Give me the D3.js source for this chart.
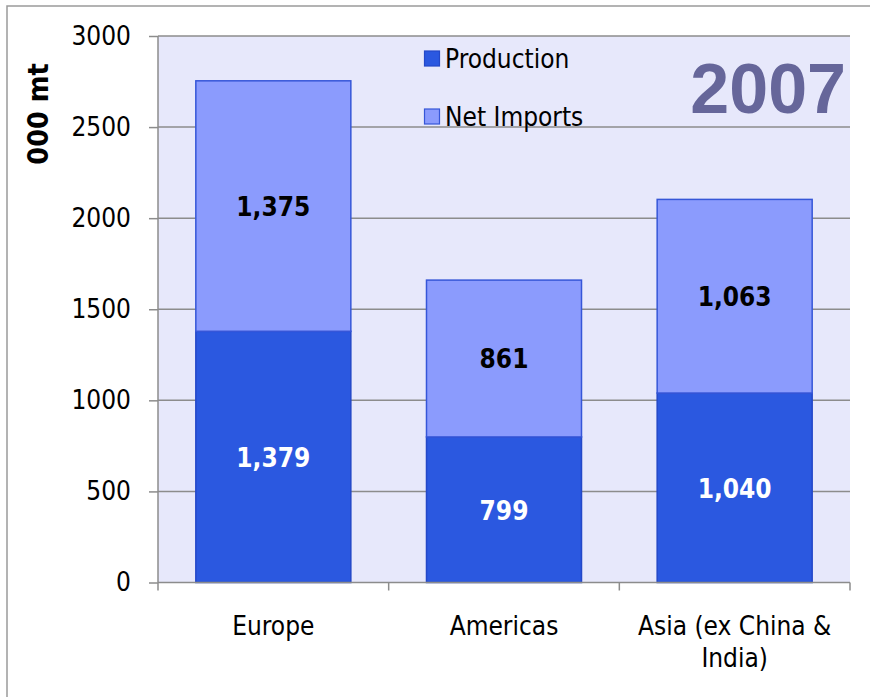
<!DOCTYPE html>
<html><head><meta charset="utf-8">
<script src="https://cdn.jsdelivr.net/npm/d3@7"></script>
<style>
body{margin:0;background:#fff;}
text{font-family:"DejaVu Sans Condensed","DejaVu Sans",sans-serif;font-stretch:condensed;}
</style></head>
<body>
<svg id="chart" width="870" height="697"></svg>
<script>
const categories = ["Europe", "Americas", "Asia (ex China & India)"];
const categoryLines = [["Europe"], ["Americas"], ["Asia (ex China &", "India)"]];
const production = [1379, 799, 1040];
const netImports = [1375, 861, 1063];
const seriesNames = ["Production", "Net Imports"];
const yTicks = [0, 500, 1000, 1500, 2000, 2500, 3000];
const yearLabel = "2007";
const yTitle = "000 mt";

const svg = d3.select("#chart");
const W = 870, H = 697;
const m = {left:158, right:850, top:36, bottom:582.5};

// outer border
svg.append("rect").attr("x",7).attr("y",6).attr("width",W+10).attr("height",H+10)
  .attr("fill","#fff").attr("stroke","#9a9a9a").attr("stroke-width",1.5);

const x = d3.scaleBand().domain(categories).range([m.left, m.right]).padding(0);
const y = d3.scaleLinear().domain([0,3000]).range([m.bottom, m.top]);

// plot background
svg.append("rect").attr("x",m.left).attr("y",m.top).attr("width",m.right-m.left).attr("height",m.bottom-m.top)
  .attr("fill","#e7e8fb");

// grid
svg.append("g").selectAll("line").data(yTicks.filter(d=>d>0)).join("line")
  .attr("x1",m.left).attr("x2",m.right).attr("y1",d=>y(d)).attr("y2",d=>y(d))
  .attr("stroke","#8c8c8c").attr("stroke-width",1.5);

// bars
const stackData = categories.map((c,i)=>({cat:c, production:production[i], netImports:netImports[i]}));
const stack = d3.stack().keys(["production","netImports"])(stackData);
const colors = {production:"#2b58e0", netImports:"#8b9bfd"};
const strokes = {production:"#2448c8", netImports:"#3656d8"};
const barW = x.bandwidth()*0.672;
const gBars = svg.append("g");
stack.forEach(layer=>{
  gBars.selectAll(null).data(layer).join("rect")
    .attr("x",d=>x(d.data.cat)+(x.bandwidth()-barW)/2)
    .attr("y",d=>y(d[1]))
    .attr("width",barW)
    .attr("height",d=>y(d[0])-y(d[1]))
    .attr("fill",colors[layer.key])
    .attr("stroke",strokes[layer.key]).attr("stroke-width",1.5);
});
const fmt = d3.format(",");
stack.forEach(layer=>{
  gBars.selectAll(null).data(layer).join("text")
    .attr("x",d=>x(d.data.cat)+x.bandwidth()/2)
    .attr("y",d=>(y(d[0])+y(d[1]))/2)
    .attr("dy","0.38em")
    .attr("text-anchor","middle")
    .attr("font-weight","bold").attr("font-size",26)
    .attr("fill",layer.key==="production"?"#ffffff":"#000000")
    .text(d=>fmt(d[1]-d[0]));
});

// y axis
const yAxis = svg.append("g").attr("transform",`translate(${m.left},0)`)
  .call(d3.axisLeft(y).tickValues(yTicks).tickSize(9).tickPadding(18).tickFormat(d3.format("d")));
yAxis.select(".domain").attr("stroke","#8c8c8c").attr("stroke-width",1.5).attr("d",`M0,${m.top}V${m.bottom}`);
yAxis.selectAll(".tick line").attr("stroke","#8c8c8c").attr("stroke-width",1.5);
yAxis.selectAll(".tick text").attr("font-size",26).attr("fill","#000")
  .style("font-family",'"DejaVu Sans Condensed","DejaVu Sans",sans-serif');

// x axis
const xAxisG = svg.append("g");
xAxisG.append("line").attr("x1",m.left).attr("x2",m.right).attr("y1",m.bottom).attr("y2",m.bottom)
  .attr("stroke","#8c8c8c").attr("stroke-width",1.5);
const boundaries = categories.map(c=>x(c)).concat([x(categories[categories.length-1])+x.bandwidth()]);
xAxisG.selectAll("line.t").data(boundaries).join("line").attr("class","t")
  .attr("x1",d=>d).attr("x2",d=>d).attr("y1",m.bottom).attr("y2",m.bottom+8)
  .attr("stroke","#8c8c8c").attr("stroke-width",1.5);
categories.forEach((c,i)=>{
  const t = xAxisG.append("text").attr("text-anchor","middle").attr("font-size",26).attr("fill","#000");
  categoryLines[i].forEach((ln,j)=>{
    t.append("tspan").attr("x",x(c)+x.bandwidth()/2).attr("y",635+j*31.5).text(ln);
  });
});

// y title
svg.append("text").attr("transform","translate(48,114) rotate(-90)")
  .attr("text-anchor","middle").attr("font-weight","bold").attr("font-size",28.5).attr("fill","#000")
  .text(yTitle);

// legend
const legColors = [colors.production, colors.netImports];
const legStrokes = [strokes.production, strokes.netImports];
seriesNames.forEach((s,i)=>{
  const yy = 51 + i*58;
  svg.append("rect").attr("x",424.5).attr("y",yy).attr("width",15).attr("height",15)
    .attr("fill",legColors[i]).attr("stroke",legStrokes[i]).attr("stroke-width",1.2);
  svg.append("text").attr("x",445).attr("y",yy+16.5).attr("font-size",26).attr("fill","#000").text(s);
});

// year label
svg.append("text").attr("x",846).attr("y",113).attr("text-anchor","end")
  .attr("font-size",70).attr("font-weight","bold").attr("fill","#66669a")
  .style("font-family",'"Liberation Sans",Arial,sans-serif').style("font-stretch","normal")
  .text(yearLabel);
</script>
</body></html>
